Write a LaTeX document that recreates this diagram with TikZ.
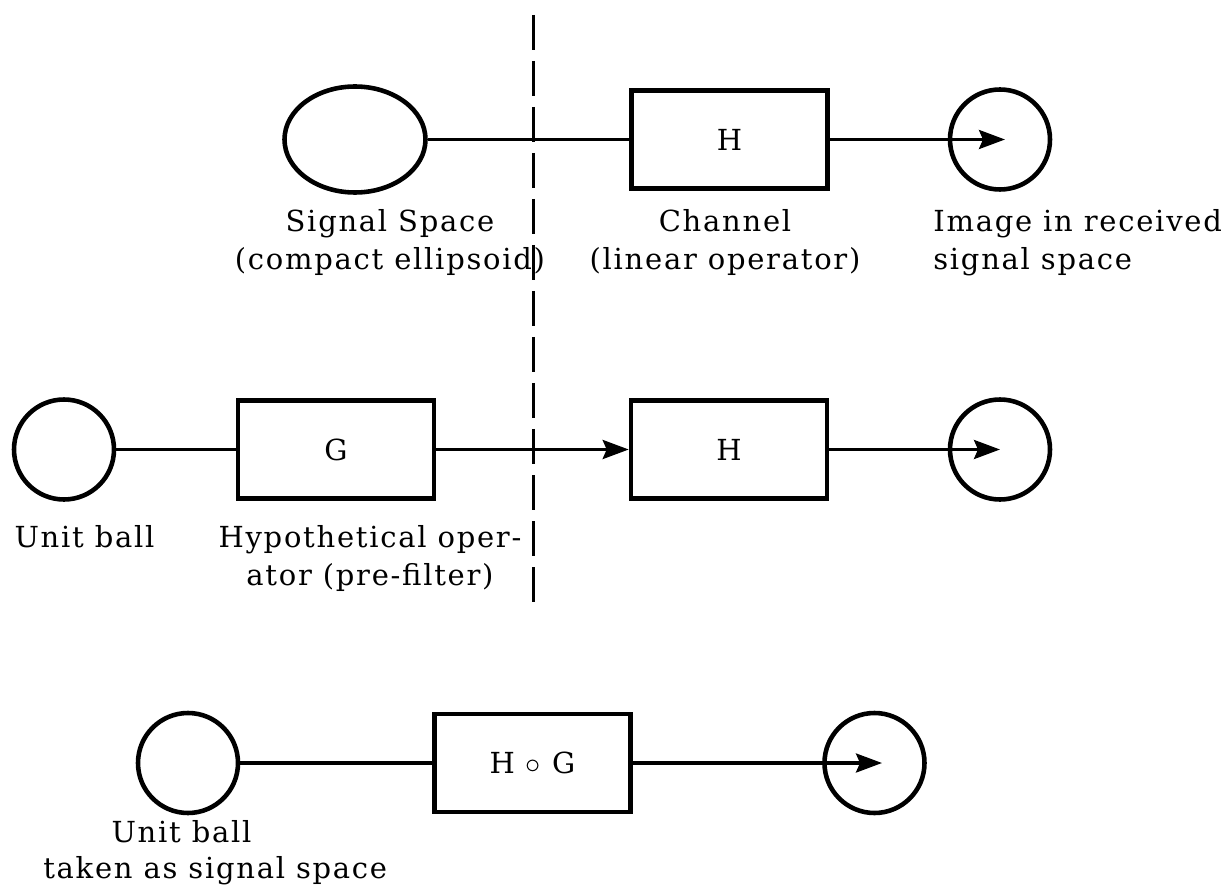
\documentclass[tikz,border=0pt]{standalone}
\usepackage{fontspec}
\setmainfont{DejaVu Serif}[LetterSpace=6]
\usetikzlibrary{arrows.meta,shapes.geometric}

\begin{document}
\begin{tikzpicture}[
  font=\fontsize{16.5}{21.6}\selectfont,
  ball/.style={draw,circle,line width=2.6pt,minimum size=2.0cm,inner sep=0pt},
  oval/.style={draw,ellipse,line width=2.6pt,minimum width=2.82cm,minimum height=2.12cm,inner sep=0pt},
  opbox/.style={draw,rectangle,line width=2.6pt,minimum width=3.92cm,minimum height=1.96cm},
  link/.style={line width=1.9pt},
  flow/.style={line width=1.9pt,-{Stealth[length=5.2mm,width=3.8mm,inset=0.8mm]}},
  lbl/.style={inner sep=0pt,anchor=north,align=center}
]
  \useasboundingbox (0,0) rectangle (24.62,17.74);

  % separation line
  \coordinate (cut top) at (10.67,17.44);
  \coordinate (cut bot) at (10.67,5.58);
  \draw[line width=2pt,dash pattern=on 0.7cm off 0.22cm] (cut top) -- (cut bot);

  % first row: signal space through the channel
  \node[oval] (S) at (7.10,14.95) {};
  \node[opbox] (H1) at (14.59,14.95) {H};
  \node[ball] (R1) at (20.0,14.95) {};
  \draw[link] (S) -- (H1);
  \draw[flow,shorten >=-0.1cm] (H1) -- (R1.center);
  \node[lbl] (Slab) at (7.8,13.56) {Signal Space\\(compact ellipsoid)};
  \node[lbl] (Clab) at (14.5,13.56) {Channel\\(linear operator)};
  \node[lbl,anchor=north west,align=left] (Rlab) at (18.66,13.56) {Image in received\\signal space};

  % second row: pre-filter in front of the channel
  \node[ball] (U2) at (1.28,8.75) {};
  \node[opbox] (G) at (6.72,8.75) {G};
  \node[opbox] (H2) at (14.58,8.75) {H};
  \node[ball] (R2) at (20.0,8.75) {};
  \draw[link] (U2) -- (G);
  \draw[flow] (G) -- (H2);
  \draw[flow] (H2) -- (R2.center);
  \node[lbl] (U2lab) at (1.69,7.24) {Unit ball};
  \node[lbl] (Glab) at (7.40,7.24) {Hypothetical oper-\\ator (pre-filter)};

  % third row: composed operator
  \node[ball] (U3) at (3.76,2.48) {};
  \node[opbox] (HG) at (10.65,2.48) {H $\circ$ G};
  \node[ball] (R3) at (17.49,2.48) {};
  \draw[link] (U3) -- (HG);
  \draw[flow,shorten >=-0.15cm] (HG) -- (R3.center);
  \node[lbl] (U3lab) at (3.63,1.34) {Unit ball};
  \node[lbl,anchor=north west] (U3lab2) at (0.86,0.62) {taken as signal space};
\end{tikzpicture}
\end{document}
